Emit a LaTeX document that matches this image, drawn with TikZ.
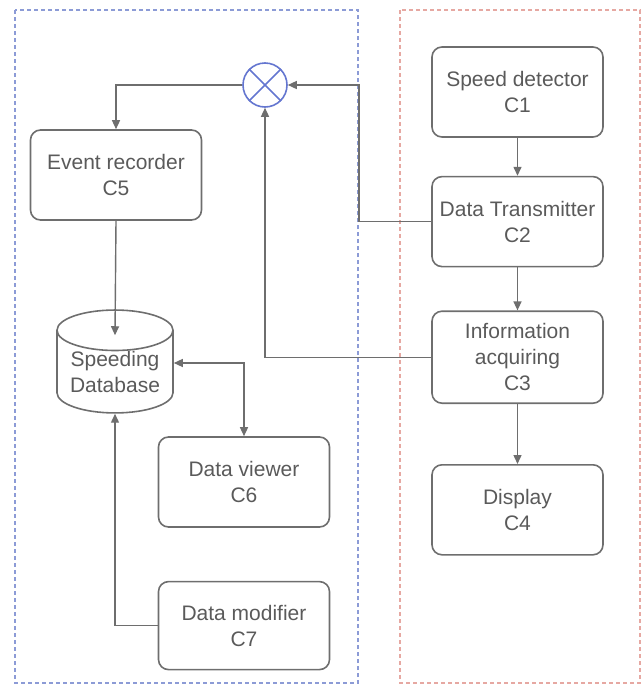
\documentclass[tikz,border=0pt]{standalone}
\usepackage{fontspec}
\setmainfont{Liberation Sans}
\usetikzlibrary{arrows.meta,positioning,shapes.geometric}
\definecolor{linegray}{HTML}{6E6E6E}
\definecolor{textgray}{HTML}{5A5A5A}
\definecolor{zoneblue}{HTML}{8C9BD6}
\definecolor{zonered}{HTML}{E6A8A2}
\definecolor{mixblue}{HTML}{6476D0}

\begin{document}
\begin{tikzpicture}[
  x=0.5pt, y=-0.5pt,
  comp/.style={draw=linegray, line width=0.8pt, rounded corners=5pt,
               minimum width=85.5pt, minimum height=45pt, inner sep=1pt,
               font=\fontsize{10.5}{13}\selectfont, text=textgray, align=center},
  dbase/.style={draw=linegray, line width=0.8pt, cylinder, shape border rotate=90,
                aspect=0.45, minimum width=58pt, minimum height=50pt, inner sep=0pt,
                font=\fontsize{10.5}{13}\selectfont, text=textgray, align=center},
  mixer/.style={draw=mixblue, line width=0.8pt, circle, minimum size=22pt, inner sep=0pt},
  zone/.style={dash pattern=on 2pt off 1.5pt, line width=0.8pt},
  arr/.style={-{Triangle[length=4.5pt,width=4pt]}, draw=linegray, line width=0.7pt},
  darr/.style={{Triangle[length=4.5pt,width=4pt]}-{Triangle[length=4.5pt,width=4pt]},
               draw=linegray, line width=0.7pt}
]
  \useasboundingbox (0,0) rectangle (643,686);

  % the two zones
  \draw[zone, draw=zoneblue] (15,10) rectangle (358,683);
  \draw[zone, draw=zonered] (400,10) rectangle (640,683);

  % right column
  \node[comp] (c1) at (517.5,92) {Speed detector\\C1};
  \node[comp, below=19pt of c1] (c2) {Data Transmitter\\C2};
  \node[comp, below=21.5pt of c2, minimum height=46pt] (c3) {Information\\acquiring\\C3};
  \node[comp, below=30pt of c3] (c4) {Display\\C4};

  % left column
  \node[mixer] (mix) at (265,85) {};
  \draw[mixblue, line width=0.8pt] (mix.north west) -- (mix.south east)
                                   (mix.north east) -- (mix.south west);
  \node[comp] (c5) at (116,175) {Event recorder\\C5};
  \node[dbase] (db) at (115,372) {Speeding\\Database};
  \node[comp] (c6) at (244,482) {Data viewer\\C6};
  \node[comp, below=26.5pt of c6, minimum height=44pt] (c7) {Data modifier\\C7};
  \coordinate (bend) at (359,85);

  \draw[arr] (c1) -- (c2);
  \draw[arr] (c2) -- (c3);
  \draw[arr] (c3) -- (c4);
  \draw[arr] (c2.west) -| (bend) -- (mix.east);
  \draw[arr] (c3.west) -| (mix.south);
  \draw[arr] (mix.west) -| (c5.north);
  \draw[arr] (c5.south) -- ([yshift=-13pt]db.north);
  \draw[darr] ([yshift=4.5pt]db.east) -| (c6.north);
  \draw[arr] (c7.west) -| (db.south);
\end{tikzpicture}
\end{document}
